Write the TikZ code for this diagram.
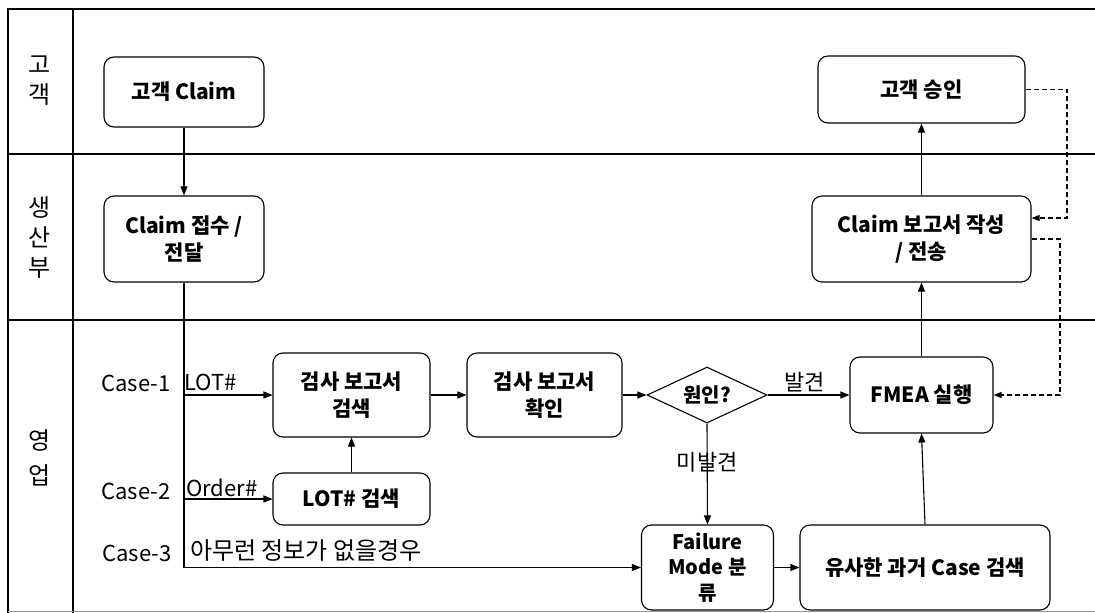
\documentclass[tikz,border=0pt]{standalone}
\usepackage{fontspec}
\setmainfont{Noto Sans CJK KR}
\usetikzlibrary{arrows.meta,shapes.geometric,calc}
\begin{document}
\begin{tikzpicture}[x=1pt,y=-1pt,
  box/.style={draw,line width=1.1pt,rounded corners=10pt,align=center,
    font=\fontsize{21}{27}\selectfont\bfseries,inner sep=2pt},
  arr/.style={line width=1.1pt,-{Triangle[length=9pt,width=7pt]}},
  dsh/.style={line width=1.1pt,dashed,dash pattern=on 5pt off 3pt,-{Triangle[length=8pt,width=6pt]}},
  frame/.style={line width=1.1pt},
  lane/.style={align=center,font=\fontsize{24}{30}\selectfont},
  lbl/.style={font=\fontsize{22}{26}\selectfont,inner sep=0pt},
]
\useasboundingbox (0,0) rectangle (1095,613);
% frame
\draw[frame] (1095,9) -- (8,9) -- (8,613);
\draw[frame] (73,9) -- (73,613);
\draw[frame] (8,154) -- (1095,154);
\draw[frame] (8,320) -- (1095,320);
\draw[line width=1pt,black!40] (8,611) -- (1095,611);
% lane labels
\node[lane] (l1) at (40,81) {고\\객};
\node[lane] (l2) at (40,238) {생\\산\\부};
\node[lane] (l3) at (40,458) {영\\[5pt]업};
% nodes
\node[box,minimum width=160pt,minimum height=70pt] (c1) at (184,92) {고객 Claim};
\node[box,minimum width=160pt,minimum height=86pt] (c2) at (184,239) {Claim 접수 /\\전달};
\node[box,minimum width=207pt,minimum height=67pt] (a1) at (921.5,89.5) {고객 승인};
\node[box,minimum width=219pt,minimum height=86pt] (a2) at (921.5,239) {Claim 보고서 작성\\/ 전송};
\node[box,minimum width=143pt,minimum height=76pt] (fm) at (921.5,395) {FMEA 실행};
\node[box,minimum width=157pt,minimum height=84pt] (s1) at (351.5,395) {검사 보고서\\검색};
\node[box,minimum width=155pt,minimum height=84pt] (s2) at (544.5,395) {검사 보고서\\확인};
\node[draw,line width=1.1pt,diamond,aspect=2.1,inner sep=0pt,minimum width=120pt,minimum height=56pt,
  font=\fontsize{20}{24}\selectfont\bfseries] (d) at (707,395) {원인?};
\node[box,minimum width=157pt,minimum height=52pt] (ls) at (351.5,499) {LOT\# 검색};
\node[box,minimum width=132pt,minimum height=85pt,font=\fontsize{20}{25.5}\selectfont\bfseries] (fa) at (707.5,567.5) {Failure\\Mode 분\\류};
\node[box,minimum width=250pt,minimum height=85pt] (ys) at (925,567.5) {유사한 과거 Case 검색};
% case labels
\node[lbl,anchor=base] (k1) at (136,391) {Case-1};
\node[lbl,anchor=base] (k2) at (136,499) {Case-2};
\node[lbl,anchor=base] (k3) at (137,561) {Case-3};
\node[lbl,anchor=base west] (t1) at (184,390) {LOT\#};
\node[lbl,anchor=base west] (t2) at (186,496) {Order\#};
\node[lbl,anchor=base west,font=\fontsize{24}{26}\selectfont] (t3) at (190,559) {아무런 정보가 없을경우};
% connectors
\draw[arr] (c1.south) -- (c2.north);
\draw[arr] (c2.south) |- (fa.west);
\draw[arr] (c2.south) |- (s1.west);
\draw[arr] (c2.south) |- (ls.west);
\draw[arr] (ls.north) -- (s1.south);
\draw[arr] (s1.east) -- (s2.west);
\draw[arr] (s2.east) -- (d.west);
\draw[arr] (d.east) -- node[lbl,above=2pt,pos=0.45] (fd) {발견} (fm.west);
\draw[arr] (d.south) -- node[lbl,pos=0.38] (nf) {미발견} (fa.north);
\draw[arr] (fa.east) -- (ys.west);
\draw[arr] (ys.north) -- (fm.south);
\draw[arr] (fm.north) -- (a2.south);
\draw[arr] (a2.north) -- (a1.south);
\coordinate (r1) at (1067,89.5);
\coordinate (r2) at (1060,239);
\draw[dsh] (a1.east) -- (r1) |- ([yshift=21pt]a2.east);
\draw[dsh] (a2.east) -- (r2) |- (fm.east);
\end{tikzpicture}
\end{document}
